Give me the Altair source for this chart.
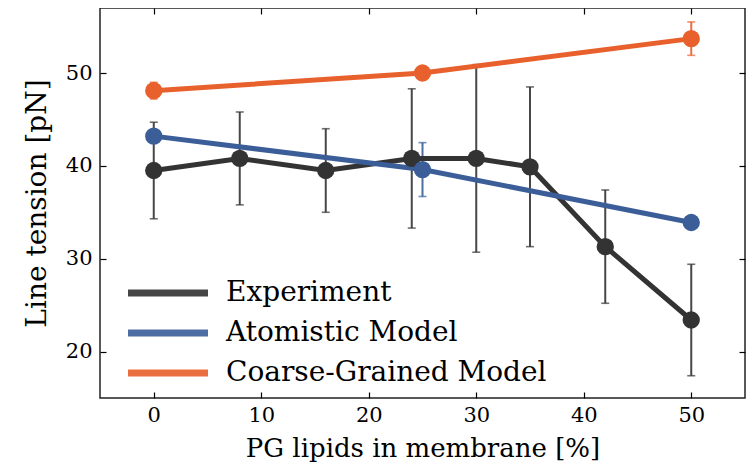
import altair as alt
import pandas as pd

series_names = ["Experiment", "Atomistic Model", "Coarse-Grained Model"]
series_colors = ["#333333", "#3b5e98", "#e8602c"]

exp_x = [0, 8, 16, 24, 30, 35, 42, 50]
exp_y = [39.5, 40.8, 39.5, 40.8, 40.8, 39.9, 31.3, 23.4]
exp_err = [5.2, 5.0, 4.5, 7.5, 10.1, 8.6, 6.1, 6.0]

atom_x = [0, 25, 50]
atom_y = [43.2, 39.6, 33.9]
atom_err = [0.5, 2.9, 0.5]

cg_x = [0, 25, 50]
cg_y = [48.1, 50.0, 53.7]
cg_err = [0.9, 0.5, 1.8]

x_ticks = [0, 10, 20, 30, 40, 50]
y_ticks = [20, 30, 40, 50]

rows = []
for name, xs, ys, es in [
    (series_names[0], exp_x, exp_y, exp_err),
    (series_names[1], atom_x, atom_y, atom_err),
    (series_names[2], cg_x, cg_y, cg_err),
]:
    for xv, yv, ev in zip(xs, ys, es):
        rows.append({"series": name, "order": series_names.index(name),
                     "x": xv, "y": yv, "lo": yv - ev, "hi": yv + ev})
df = pd.DataFrame(rows)

FONT = "DejaVu Serif"

xscale = alt.Scale(domain=[-5, 55], nice=False, zero=False)
yscale = alt.Scale(domain=[15, 57], nice=False, zero=False)
cscale = alt.Scale(domain=series_names, range=series_colors)

legend = alt.Legend(title=None, orient="none", legendX=54, legendY=271,
                    symbolType="M-8,0H8", symbolSize=100, symbolStrokeWidth=7,
                    symbolFillColor="transparent", labelOffset=44,
                    labelFont=FONT, labelFontSize=28, labelColor="black",
                    labelLimit=500, rowPadding=12, padding=0)
color = alt.Color("series:N", scale=cscale, sort=series_names, legend=legend)

x_bottom = alt.Axis(orient="bottom", values=x_ticks, tickSize=6, offset=-6, domain=False,
                    grid=False, labelPadding=6, labelFontSize=21, labelFont=FONT,
                    labelColor="black", tickColor="black", tickWidth=1.2,
                    title="PG lipids in membrane [%]", titleFont=FONT, titleFontSize=26,
                    titleFontWeight="normal", titleColor="black", titlePadding=10)
y_left = alt.Axis(orient="left", values=y_ticks, tickSize=6, offset=-6, domain=False,
                  grid=False, labelPadding=8, labelFontSize=21, labelFont=FONT,
                  labelColor="black", tickColor="black", tickWidth=1.2,
                  title="Line tension [pN]", titleFont=FONT, titleFontSize=28,
                  titleFontWeight="normal", titleColor="black", titlePadding=14)
x_top = alt.Axis(orient="top", values=x_ticks, tickSize=6, offset=-6, domain=False,
                 grid=False, labels=False, title=None, tickColor="black", tickWidth=1.2)
y_right = alt.Axis(orient="right", values=y_ticks, tickSize=6, offset=-6, domain=False,
                   grid=False, labels=False, title=None, tickColor="black", tickWidth=1.2)

base = alt.Chart(df)

err = base.mark_rule(strokeWidth=2, opacity=0.9).encode(
    x=alt.X("x:Q", scale=xscale, axis=x_bottom),
    y=alt.Y("lo:Q", scale=yscale, axis=y_left),
    y2="hi:Q",
    color=color,
)
cap_lo = base.mark_tick(orient="horizontal", size=8, thickness=1.6).encode(
    x=alt.X("x:Q", scale=xscale, axis=None),
    y=alt.Y("lo:Q", scale=yscale, axis=None),
    color=color,
)
cap_hi = base.mark_tick(orient="horizontal", size=8, thickness=1.6).encode(
    x=alt.X("x:Q", scale=xscale, axis=None),
    y=alt.Y("hi:Q", scale=yscale, axis=None),
    color=color,
)
lines = base.mark_line(strokeWidth=5).encode(
    x=alt.X("x:Q", scale=xscale, axis=None),
    y=alt.Y("y:Q", scale=yscale, axis=None),
    color=color,
    order="order:Q",
)
points = base.mark_circle(size=300, opacity=1).encode(
    x=alt.X("x:Q", scale=xscale, axis=x_top),
    y=alt.Y("y:Q", scale=yscale, axis=y_right),
    color=color,
)

chart = alt.layer(err, cap_lo, cap_hi, lines, points).resolve_axis(
    x="independent", y="independent"
).properties(
    width=645, height=390,
    autosize=alt.AutoSizeParams(type="none"),
    padding={"left": 92, "top": 0, "right": 1, "bottom": 67},
    background="white",
).configure_view(stroke="#222222", strokeWidth=1.5)

chart.save("out.html", embed_options={"renderer": "svg", "actions": False})
